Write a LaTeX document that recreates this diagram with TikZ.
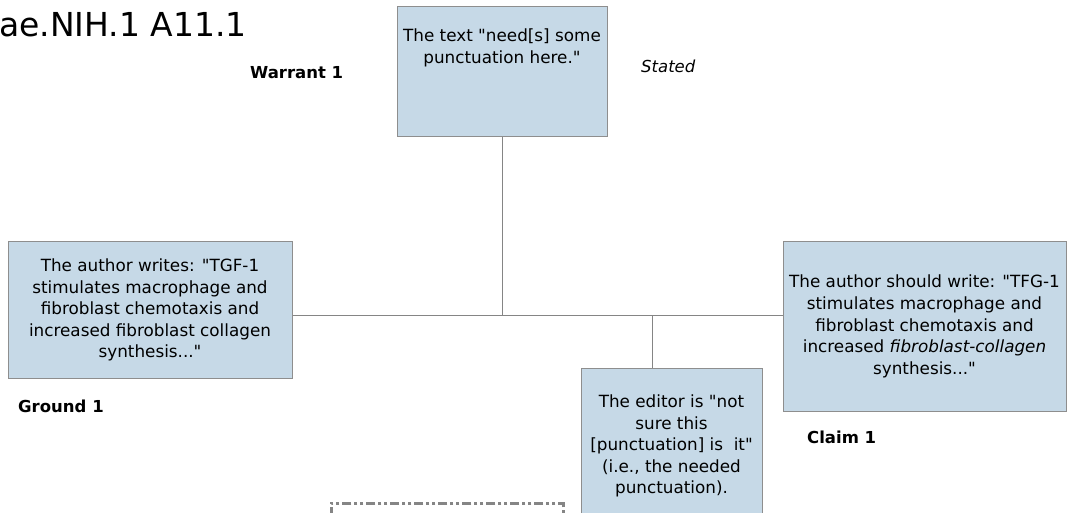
\documentclass[tikz,border=0pt]{standalone}
\usepackage{fontspec}
\setmainfont{DejaVu Sans}
\usepackage{tikz}
\usetikzlibrary{positioning}
\usetikzlibrary{calc}

\definecolor{boxfill}{HTML}{C6D9E7}
\definecolor{boxline}{HTML}{8E8E8E}
\definecolor{linkgray}{HTML}{858585}
\newcommand{\qq}{\textquotedbl}

\begin{document}
\begin{tikzpicture}[
  x=1pt, y=-1pt,
  font=\fontsize{16.8}{21.6}\selectfont,
  argbox/.style={rectangle, draw=boxline, fill=boxfill, line width=1pt, align=center, inner sep=0pt},
  role/.style={font=\fontsize{16.5}{18}\selectfont\bfseries, anchor=west, inner sep=0pt},
  link/.style={draw=linkgray, line width=1pt},
  nextbox/.style={draw=linkgray, line width=2.5pt, dash pattern=on 9pt off 3pt on 3pt off 3pt on 3pt off 3pt}
]
\useasboundingbox (0,0) rectangle (1071,513);

% title
\node[anchor=base west, inner sep=0pt, font=\fontsize{33}{38}\selectfont] (title) at (-1,37) {ae.NIH.1 A11.1};

% warrant
\node[argbox, minimum width=210, minimum height=130] (W) at (502,72) {};
\node[align=center, inner sep=0pt] (Wtext) at (502,48) {The text \qq need[s] some\\punctuation here.\qq};
\node[role] (Wlabel) at (250,73) {Warrant 1};
\node[anchor=west, inner sep=0pt, font=\fontsize{16.5}{18}\selectfont\itshape] (Wstate) at (641,66) {Stated};

% ground
\node[argbox, minimum width=284, minimum height=136] (G) at (150,310)
  {The author writes: \qq TGF-1\\stimulates macrophage and\\fibroblast chemotaxis and\\increased fibroblast collagen\\synthesis...\qq};
\node[role] (Glabel) at (18,406) {Ground 1};

% claim
\node[argbox, minimum width=283, minimum height=169] (C) at (924.5,326.5)
  {The author should write: \qq TFG-1\\stimulates macrophage and\\fibroblast chemotaxis and\\increased \textit{fibroblast-collagen}\\synthesis...\qq};
\node[role] (Clabel) at (807,437) {Claim 1};

% rebuttal (editor)
\node[argbox, minimum width=181, minimum height=156] (E) at (671.5,446)
  {The editor is \qq not\\sure this\\{[}punctuation{]} is~ it\qq\\(i.e., the needed\\punctuation).};

% next argument box, cut off
\node[nextbox, minimum width=232, minimum height=60, anchor=north west] (N) at (330,502) {};

% connectors
\coordinate (hub) at (502,315);
\coordinate (ehub) at (652,315);
\draw[link] (W.south) -- (hub);
\draw[link] (G.east |- hub) -- (C.west |- hub);
\draw[link] (ehub) -- (ehub |- E.north);

\end{tikzpicture}
\end{document}
